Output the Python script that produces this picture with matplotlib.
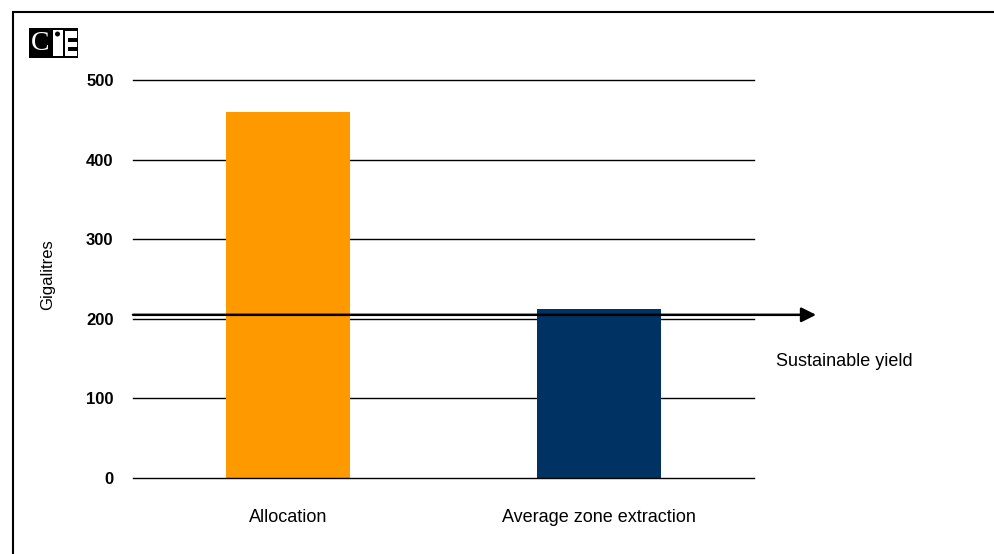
"""
Allocation vs average zone extraction, with the sustainable yield marked
"""

import matplotlib
matplotlib.use('Agg')
import matplotlib.pyplot as plt
from matplotlib.patches import Rectangle, Ellipse

plt.rcParams['font.family'] = ['Liberation Sans Narrow', 'Liberation Sans', 'DejaVu Sans']

# data
categories = ['Allocation', 'Average zone extraction']
values = [460, 212]
bar_colours = ['#FF9900', '#003363']
sustainable_yield = 205
y_ticks = [0, 100, 200, 300, 400, 500]
y_label = 'Gigalitres'
yield_label = 'Sustainable yield'

W, H = 994, 554
fig = plt.figure(figsize=(W / 100, H / 100), dpi=100)
ax = fig.add_axes([133 / W, 1 - 478 / H, 621 / W, 398 / H])

x = range(len(categories))
ax.bar(x, values, width=0.4, color=bar_colours, zorder=1)

# plain black gridlines, no spines; the zero line sits over the bars
for v in y_ticks:
    ax.axhline(v, color='black', lw=1.0, zorder=2 if v == 0 else 0, clip_on=False)
for s in ax.spines.values():
    s.set_visible(False)

ax.set_xlim(-0.5, len(categories) - 0.5)
ax.set_ylim(0, 500)
ax.set_yticks(y_ticks)
ax.set_yticklabels([str(v) for v in y_ticks], fontsize=12, fontweight='bold')
ax.set_xticks(list(x))
ax.set_xticklabels(categories, fontsize=13)
ax.tick_params(axis='both', length=0)
ax.tick_params(axis='y', pad=14)
ax.tick_params(axis='x', pad=22)

# sustainable yield arrow, running past the plot area
ax.annotate('', xy=(1.7, sustainable_yield), xytext=(-0.5, sustainable_yield),
            arrowprops=dict(arrowstyle='-|>', color='black', lw=1.8,
                            mutation_scale=22, shrinkA=0, shrinkB=0),
            annotation_clip=False, zorder=3)
fig.text(776 / W, 1 - 362 / H, yield_label, fontsize=13, va='center', ha='left')

fig.text(48 / W, 1 - 275 / H, y_label, rotation=90, fontsize=12,
         va='center', ha='center')

# outer frame (runs off the right and bottom of the image)
fig.patches.append(Rectangle((13 / W, -0.1), 1.2, 1 - 12 / H + 0.1,
                             transform=fig.transFigure, fill=False,
                             edgecolor='black', lw=1.5))


# CIE logo, built from blocks in pixel units
def fig_rect(x0, y0, x1, y1, colour):
    fig.patches.append(Rectangle((x0 / W, 1 - y1 / H), (x1 - x0) / W, (y1 - y0) / H,
                                 transform=fig.transFigure, facecolor=colour,
                                 edgecolor='none', lw=0))


fig_rect(29, 28, 78, 58, 'black')
fig.text(40 / W, 1 - 44 / H, 'C', color='white', fontsize=20, family='Liberation Serif',
         ha='center', va='center')
fig_rect(53, 30, 63, 56, 'white')
fig.patches.append(Ellipse((57.5 / W, 1 - 34 / H), 5 / W, 5 / H,
                           transform=fig.transFigure, facecolor='black',
                           edgecolor='none'))
fig_rect(65, 31, 77, 56, 'white')
fig_rect(68, 38, 77, 42, 'black')
fig_rect(68, 47, 77, 51, 'black')

fig.savefig('out.png', dpi=100)
